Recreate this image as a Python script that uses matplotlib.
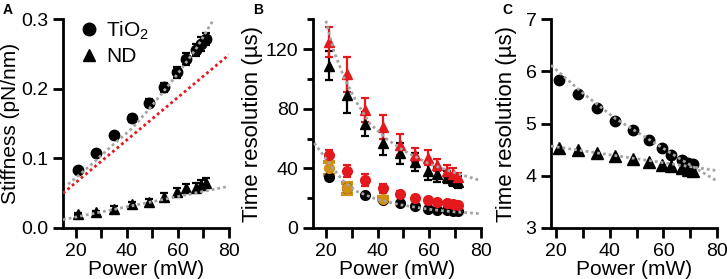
import matplotlib
matplotlib.use("Agg")
import matplotlib.pyplot as plt
from matplotlib.lines import Line2D
from matplotlib.ticker import MultipleLocator

plt.rcParams['font.family'] = ['Liberation Sans', 'DejaVu Sans']
plt.rcParams['mathtext.default'] = 'regular'

# laser power for every measurement
power = [21, 28, 35, 42, 48.5, 54.5, 59.5, 63, 67, 69, 71]

# A: stiffness (pN/nm)
stiff_tio2 = [0.083, 0.108, 0.133, 0.158, 0.180, 0.202, 0.224, 0.243, 0.256, 0.265, 0.272]
stiff_tio2_err = [0.002, 0.003, 0.004, 0.005, 0.006, 0.006, 0.008, 0.009, 0.009, 0.010, 0.009]
stiff_nd = [0.020, 0.023, 0.028, 0.034, 0.038, 0.045, 0.052, 0.057, 0.058, 0.062, 0.065]
stiff_nd_err = [0.002, 0.002, 0.003, 0.004, 0.004, 0.005, 0.006, 0.006, 0.006, 0.007, 0.007]
fit_a_tio2_x = [17, 19, 26, 35, 42, 48.5, 54.5, 60, 67, 74]
fit_a_tio2_y = [0.063, 0.069, 0.091, 0.121, 0.143, 0.170, 0.197, 0.222, 0.257, 0.300]
fit_a_red_x = [15, 80]
fit_a_red_y = [0.050, 0.249]
fit_a_nd_x = [15, 80]
fit_a_nd_y = [0.012, 0.060]

# B: time resolution (us)
b_tri_red = [125, 103, 79, 68, 56, 49, 47, 42, 38, 36, 34]
b_tri_red_err = [10, 12, 8, 8, 7, 5, 5, 4, 4, 4, 3]
b_tri_blk = [109, 89, 70, 57, 50, 44, 38, 36, 34, 32, 31]
b_tri_blk_err = [10, 12, 8, 8, 7, 6, 6, 5, 4, 4, 4]
b_circ_red = [49, 38.5, 32, 26.5, 23, 20.3, 18.5, 17.4, 16.5, 15.8, 15.2]
b_circ_red_err = [3.5, 4, 4, 3, 2, 1.5, 1.5, 1, 1, 1, 1]
b_circ_blk = [34, 26.5, 22, 18.5, 16.5, 14.5, 13, 12.3, 11.8, 11.4, 11.2]
b_circ_blk_err = [1.5, 1, 1, 1, 1, 1.5, 1, 1, 1, 1, 1]
gold_power = [21, 28, 42]
gold_vals = [40, 26.5, 19.5]
gold_err = [4.5, 3.5, 1.0]
fit_b_tri_x = [20, 23, 27, 32, 37, 44, 50, 60, 70, 79.5]
fit_b_tri_y = [139, 119, 101, 84, 70, 59, 52, 43, 37, 32]
fit_b_circ_x = [15.5, 22.7, 27, 32, 40, 49, 60, 70, 80]
fit_b_circ_y = [57, 40, 31, 24.5, 19, 15.5, 12.5, 10.8, 9.6]

# C: time resolution (us)
c_tio2 = [5.83, 5.57, 5.30, 5.06, 4.87, 4.69, 4.53, 4.40, 4.30, 4.24, 4.22]
c_nd = [4.53, 4.50, 4.43, 4.38, 4.33, 4.27, 4.21, 4.18, 4.15, 4.12, 4.09]
fit_c_tio2_x = [18, 30, 42, 54.5, 67, 80]
fit_c_tio2_y = [6.12, 5.58, 5.10, 4.70, 4.30, 3.90]
fit_c_nd_x = [18, 80]
fit_c_nd_y = [4.57, 4.10]

RED = '#e3191e'
GOLD = '#d18f14'
GRAY = '#a4a4a4'
dots = (0, (1, 1.1))

fig = plt.figure(figsize=(7.27, 2.79), dpi=100)
axA = fig.add_axes([63 / 727, 1 - 228 / 279, 166 / 727, 208.7 / 279])
axB = fig.add_axes([313 / 727, 1 - 228 / 279, 168 / 727, 208.7 / 279])
axC = fig.add_axes([551 / 727, 1 - 228 / 279, 166 / 727, 208.7 / 279])


def style(ax):
    for s in ['top', 'right']:
        ax.spines[s].set_visible(False)
    for s in ['left', 'bottom']:
        ax.spines[s].set_linewidth(2)
    ax.tick_params(which='both', width=2, labelsize=14, direction='out')
    ax.tick_params(which='major', length=7)
    ax.tick_params(axis='x', which='minor', length=7)
    ax.tick_params(axis='y', which='minor', length=4)
    ax.xaxis.set_major_locator(MultipleLocator(20))
    ax.xaxis.set_minor_locator(MultipleLocator(10))
    ax.set_xlabel('Power (mW)', fontsize=15, labelpad=0)


def errpts(ax, y, err, marker, color, ms, x=power):
    ax.errorbar(x, y, yerr=err, fmt=marker, color=color, ms=ms, elinewidth=1.6,
                capsize=3, capthick=1.6, zorder=3)


# ---- A ----
style(axA)
errpts(axA, stiff_tio2, stiff_tio2_err, 'o', 'black', 7.5)
errpts(axA, stiff_nd, stiff_nd_err, '^', 'black', 7.5)
axA.plot(fit_a_red_x, fit_a_red_y, color=RED, lw=2, linestyle=dots, zorder=4)
axA.plot(fit_a_tio2_x, fit_a_tio2_y, color=GRAY, lw=2, linestyle=dots, zorder=5)
axA.plot(fit_a_nd_x, fit_a_nd_y, color=GRAY, lw=2, linestyle=dots, zorder=5)
axA.set_xlim(15, 80)
axA.set_ylim(0, 0.3)
axA.yaxis.set_major_locator(MultipleLocator(0.1))
axA.yaxis.set_major_formatter(plt.FormatStrFormatter('%.1f'))
axA.set_ylabel('Stiffness (pN/nm)', fontsize=15, labelpad=1)
handles = [Line2D([], [], marker='o', color='black', ls='none', ms=9),
           Line2D([], [], marker='^', color='black', ls='none', ms=9)]
axA.legend(handles, ['TiO$_2$', 'ND'], loc='upper left', bbox_to_anchor=(0.02, 1.04),
           frameon=False, fontsize=15, handletextpad=0.1, labelspacing=0.25,
           handlelength=1.4, borderaxespad=0)

# ---- B ----
style(axB)
errpts(axB, b_circ_blk, b_circ_blk_err, 'o', 'black', 7)
errpts(axB, b_circ_red, b_circ_red_err, 'o', RED, 7)
errpts(axB, b_tri_blk, b_tri_blk_err, '^', 'black', 7.5)
errpts(axB, b_tri_red, b_tri_red_err, '^', RED, 7.5)
axB.errorbar(gold_power, gold_vals, yerr=gold_err, fmt='o', color=GOLD, ms=7,
             elinewidth=2.5, capsize=4, capthick=3, zorder=3)
axB.plot(fit_b_tri_x, fit_b_tri_y, color=GRAY, lw=2, linestyle=dots, zorder=5)
axB.plot(fit_b_circ_x, fit_b_circ_y, color=GRAY, lw=2, linestyle=dots, zorder=5)
axB.set_xlim(15, 80)
axB.set_ylim(0, 140)
axB.yaxis.set_major_locator(MultipleLocator(40))
axB.yaxis.set_minor_locator(MultipleLocator(20))
axB.set_ylabel('Time resolution (µs)', fontsize=16, labelpad=2)

# ---- C ----
style(axC)
axC.plot(power, c_tio2, 'o', color='black', ms=7.5, zorder=3)
axC.plot(power, c_nd, '^', color='black', ms=8, zorder=3)
axC.plot(fit_c_tio2_x, fit_c_tio2_y, color=GRAY, lw=2, linestyle=dots, zorder=5)
axC.plot(fit_c_nd_x, fit_c_nd_y, color=GRAY, lw=2, linestyle=dots, zorder=5)
axC.set_xlim(18, 80)
axC.set_ylim(3, 7)
axC.yaxis.set_major_locator(MultipleLocator(1))
axC.set_ylabel('Time resolution (µs)', fontsize=16, labelpad=6)

for x, lab in [(3, 'A'), (253, 'B'), (502, 'C')]:
    fig.text(x / 727, 1 - 3 / 279, lab, fontsize=10, fontweight='bold', va='top')

fig.savefig('out.png', dpi=100)
